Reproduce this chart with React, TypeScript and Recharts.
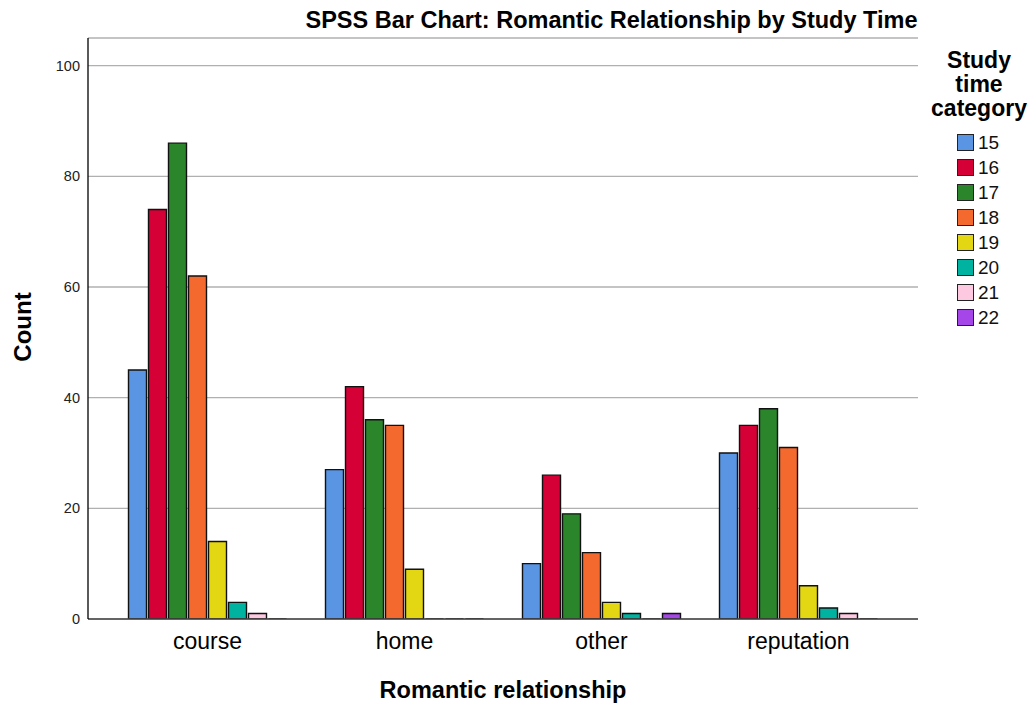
import React from "react";
import { BarChart, Bar, XAxis, YAxis, CartesianGrid } from "recharts";

const categories = ["course", "home", "other", "reputation"];
const seriesKeys = ["15", "16", "17", "18", "19", "20", "21", "22"];
const v15 = [45, 27, 10, 30];
const v16 = [74, 42, 26, 35];
const v17 = [86, 36, 19, 38];
const v18 = [62, 35, 12, 31];
const v19 = [14, 9, 3, 6];
const v20 = [3, 0, 1, 2];
const v21 = [1, 0, 0, 1];
const v22 = [0, 0, 1, 0];
const yTicks = [0, 20, 40, 60, 80, 100];
const colors = ["#5a95e3", "#d50036", "#2b862b", "#f4692d", "#e3d613", "#00b3a0", "#fcc9e1", "#a546e9"];

const seriesValues = [v15, v16, v17, v18, v19, v20, v21, v22];
const data = categories.map((c, i) => {
  const row: any = { name: c };
  seriesKeys.forEach((k, j) => (row[k] = seriesValues[j][i]));
  return row;
});

const FONT = "'Liberation Sans', Arial, sans-serif";

const BarShape = (props: any) => {
  const { x, y, width, height, fill } = props;
  const h = Math.max(0, height || 0);
  return (
    <path
      d={`M${x},${y} h${width} v${h} h${-width} Z`}
      fill={fill}
      stroke="#111"
      strokeWidth={1.4}
    />
  );
};

export default function App() {
  return (
    <div style={{ position: "absolute", left: 0, top: 0, width: 1031, height: 704, background: "#fff", fontFamily: FONT, overflow: "hidden" }}>
      <div style={{ position: "absolute", left: 255, width: 713, top: 7, textAlign: "center", fontWeight: "bold", fontSize: 23.5, color: "#000", whiteSpace: "nowrap" }}>
        SPSS Bar Chart: Romantic Relationship by Study Time
      </div>
      <div style={{ position: "absolute", left: 88, width: 830, top: 677, textAlign: "center", fontWeight: "bold", fontSize: 23.5, color: "#000", whiteSpace: "nowrap" }}>
        Romantic relationship
      </div>
      <div style={{ position: "absolute", left: 23, top: 327, transform: "translate(-50%, -50%) rotate(-90deg)", fontWeight: "bold", fontSize: 24, color: "#000", whiteSpace: "nowrap" }}>
        Count
      </div>
      <div style={{ position: "absolute", left: 929, top: 48, width: 100 }}>
        <div style={{ fontWeight: "bold", fontSize: 23, lineHeight: "24px", textAlign: "center", color: "#000" }}>
          Study<br />time<br />category
        </div>
      </div>
      <div style={{ position: "absolute", left: 957, top: 130 }}>
        {seriesKeys.map((k, i) => (
          <div key={k} style={{ display: "flex", alignItems: "center", height: 25 }}>
            <div style={{ width: 17, height: 17, background: colors[i], border: "1.4px solid #222", boxSizing: "border-box" }} />
            <span style={{ marginLeft: 4, fontSize: 19, color: "#111" }}>{k}</span>
          </div>
        ))}
      </div>
      <div style={{ position: "absolute", left: 0, top: 0 }}>
        <BarChart
          width={1031}
          height={704}
          data={data}
          margin={{ top: 38, right: 113, left: 28, bottom: 55 }}
          barCategoryGap={19.5}
          barGap={2}
        >
          <CartesianGrid vertical={false} stroke="#b0b0b0" strokeWidth={1.3} />
          <XAxis
            dataKey="name"
            height={30}
            padding={{ left: 21, right: 21 }}
            tickLine={false}
            axisLine={{ stroke: "#444", strokeWidth: 1.3 }}
            tick={{ fontSize: 23, fill: "#000", fontFamily: FONT }}
            tickMargin={8}
          />
          <YAxis
            width={60}
            domain={[0, 105]}
            ticks={yTicks}
            allowDataOverflow
            tickLine={false}
            axisLine={{ stroke: "#000", strokeWidth: 1.3 }}
            tick={{ fontSize: 14.5, fill: "#222", fontFamily: FONT }}
            tickMargin={2}
          />
          {seriesKeys.map((k, i) => (
            <Bar key={k} dataKey={k} fill={colors[i]} isAnimationActive={false} shape={<BarShape />} />
          ))}
        </BarChart>
      </div>
    </div>
  );
}
